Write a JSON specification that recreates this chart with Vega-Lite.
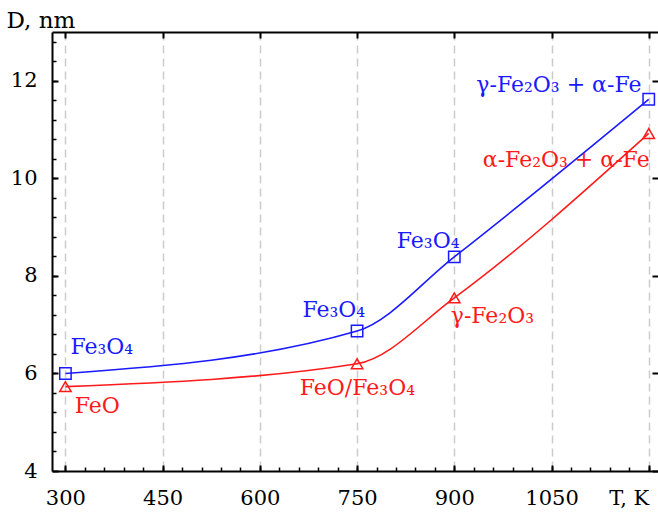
{
  "$schema": "https://vega.github.io/schema/vega-lite/v6.json",
  "width": 606,
  "height": 439,
  "autosize": {"type": "none"},
  "padding": {"left": 52, "top": 32, "right": 0, "bottom": 43},
  "background": "white",
  "config": {
    "view": {"stroke": null},
    "axis": {
      "labelFont": "DejaVu Serif",
      "titleFont": "DejaVu Serif",
      "labelFontSize": 21,
      "labelColor": "black",
      "tickColor": "black",
      "domainColor": "black"
    }
  },
  "datasets": {
    "pts": [
      {"series": "upper", "T": 300, "D": 6.0},
      {"series": "upper", "T": 750, "D": 6.87},
      {"series": "upper", "T": 900, "D": 8.39},
      {"series": "upper", "T": 1200, "D": 11.62},
      {"series": "lower", "T": 300, "D": 5.73},
      {"series": "lower", "T": 750, "D": 6.2},
      {"series": "lower", "T": 900, "D": 7.55},
      {"series": "lower", "T": 1200, "D": 10.92}
    ],
    "labels": [
      {"series": "upper", "text": "Fe₃O₄", "lx": 307.7, "ly": 6.39},
      {"series": "lower", "text": "FeO", "lx": 314.4, "ly": 5.18},
      {"series": "upper", "text": "Fe₃O₄", "lx": 665.7, "ly": 7.15},
      {"series": "lower", "text": "FeO/Fe₃O₄", "lx": 661.5, "ly": 5.55},
      {"series": "upper", "text": "Fe₃O₄", "lx": 811.2, "ly": 8.58},
      {"series": "lower", "text": "γ-Fe₂O₃", "lx": 894.5, "ly": 7.03},
      {"series": "upper", "text": "γ-Fe₂O₃ + α-Fe", "lx": 934, "ly": 11.76},
      {"series": "lower", "text": "α-Fe₂O₃ + α-Fe", "lx": 944, "ly": 10.24}
    ]
  },
  "layer": [
    {
      "data": {"name": "pts"},
      "mark": {"type": "line", "interpolate": "monotone", "strokeWidth": 1.6},
      "encoding": {
        "x": {
          "field": "T", "type": "quantitative",
          "scale": {"domain": [279.3, 1214.3], "nice": false, "zero": false},
          "axis": {
            "orient": "bottom", "title": null, "format": "d",
            "values": [300, 450, 600, 750, 900, 1050, 1200],
            "domain": true, "domainWidth": 2,
            "tickSize": -6, "tickWidth": 2,
            "labelPadding": 22, "labelFlush": false, "labelOverlap": false,
            "labelExpr": "datum.value == 1200 ? 'T, K' : datum.label",
            "labelAlign": {"condition": {"test": "datum.value == 1200", "value": "right"}, "value": "center"},
            "grid": true, "gridDash": [8, 5], "gridColor": "#cccccc", "gridWidth": 1.5
          }
        },
        "y": {
          "field": "D", "type": "quantitative",
          "scale": {"domain": [4, 13], "nice": false, "zero": false},
          "axis": {
            "orient": "left", "title": "D, nm",
            "titleAngle": 0, "titleX": -46, "titleY": -5, "titleAlign": "left", "titleBaseline": "alphabetic",
            "titleFontSize": 23, "titleFontWeight": "normal", "titleColor": "black",
            "values": [4, 6, 8, 10, 12],
            "domain": true, "domainWidth": 2,
            "tickSize": -6, "tickWidth": 2,
            "labelPadding": 21, "grid": false
          }
        },
        "color": {
          "field": "series", "type": "nominal",
          "scale": {"domain": ["upper", "lower"], "range": ["#1a1aff", "#ff1a1a"]},
          "legend": null
        }
      }
    },
    {
      "data": {"name": "pts"},
      "mark": {"type": "point", "filled": false, "strokeWidth": 1.5, "size": 130, "opacity": 1},
      "encoding": {
        "x": {
          "field": "T", "type": "quantitative",
          "axis": {
            "orient": "bottom", "title": null, "labels": false, "domain": false, "grid": false,
            "values": [300, 330, 360, 390, 420, 450, 480, 510, 540, 570, 600, 630, 660, 690, 720, 750, 780, 810, 840, 870, 900, 930, 960, 990, 1020, 1050, 1080, 1110, 1140, 1170, 1200],
            "tickSize": -4, "tickWidth": 1.5
          }
        },
        "y": {
          "field": "D", "type": "quantitative",
          "axis": {
            "orient": "left", "title": null, "labels": false, "domain": false, "grid": false,
            "values": [4.4, 4.8, 5.2, 5.6, 6, 6.4, 6.8, 7.2, 7.6, 8, 8.4, 8.8, 9.2, 9.6, 10, 10.4, 10.8, 11.2, 11.6, 12, 12.4, 12.8],
            "tickSize": -4, "tickWidth": 1.5
          }
        },
        "color": {"field": "series", "type": "nominal", "legend": null},
        "shape": {
          "field": "series", "type": "nominal",
          "scale": {"domain": ["upper", "lower"], "range": ["square", "triangle-up"]},
          "legend": null
        }
      }
    },
    {
      "data": {"name": "labels"},
      "mark": {"type": "text", "align": "left", "baseline": "alphabetic", "fontSize": 22, "font": "DejaVu Serif"},
      "encoding": {
        "x": {
          "field": "lx", "type": "quantitative",
          "axis": {
            "orient": "top", "title": null, "labels": false, "grid": false,
            "domain": true, "domainWidth": 2,
            "values": [300, 450, 600, 750, 900, 1050, 1200],
            "tickSize": -6, "tickWidth": 2
          }
        },
        "y": {
          "field": "ly", "type": "quantitative",
          "axis": {
            "orient": "right", "title": null, "labels": false, "grid": false, "domain": false,
            "values": [4, 6, 8, 10, 12],
            "tickSize": -6, "tickWidth": 2
          }
        },
        "text": {"field": "text", "type": "nominal"},
        "color": {"field": "series", "type": "nominal", "legend": null}
      }
    }
  ],
  "resolve": {"axis": {"x": "independent", "y": "independent"}}
}
